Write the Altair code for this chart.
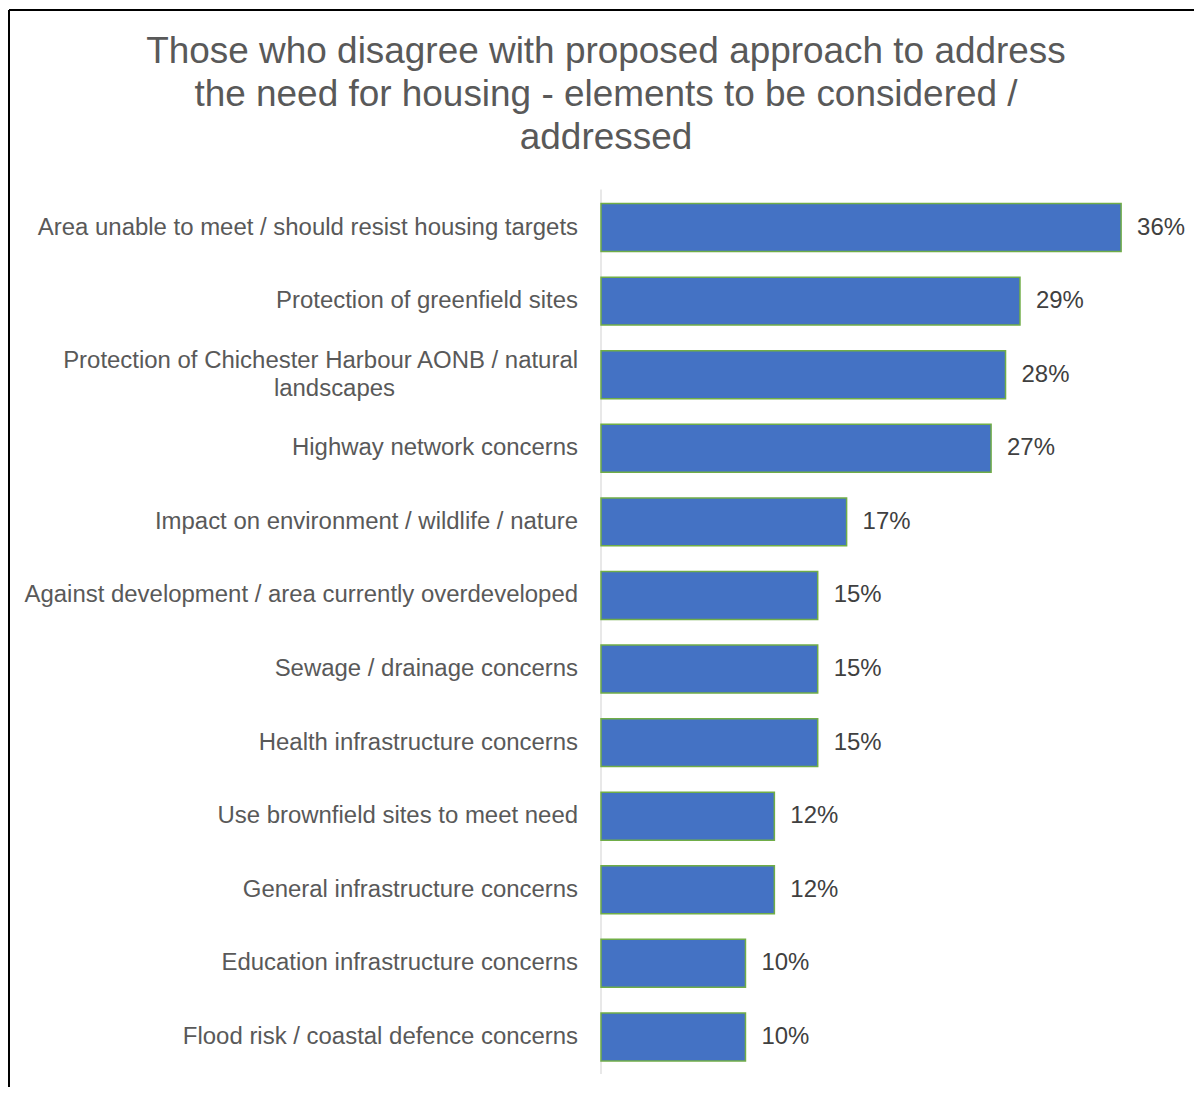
import altair as alt
import pandas as pd

title_lines = [
    "Those who disagree with proposed approach to address",
    "the need for housing - elements to be considered /",
    "addressed",
]

categories = [
    "Area unable to meet / should resist housing targets",
    "Protection of greenfield sites",
    "Protection of Chichester Harbour AONB / natural landscapes",
    "Highway network concerns",
    "Impact on environment / wildlife / nature",
    "Against development / area currently overdeveloped",
    "Sewage / drainage concerns",
    "Health infrastructure concerns",
    "Use brownfield sites to meet need",
    "General infrastructure concerns",
    "Education infrastructure concerns",
    "Flood risk / coastal defence concerns",
]
values = [36, 29, 28, 27, 17, 15, 15, 15, 12, 12, 10, 10]

label_line1 = [
    "Area unable to meet / should resist housing targets",
    "Protection of greenfield sites",
    "Protection of Chichester Harbour AONB / natural",
    "Highway network concerns",
    "Impact on environment / wildlife / nature",
    "Against development / area currently overdeveloped",
    "Sewage / drainage concerns",
    "Health infrastructure concerns",
    "Use brownfield sites to meet need",
    "General infrastructure concerns",
    "Education infrastructure concerns",
    "Flood risk / coastal defence concerns",
]
label_line2 = ["", "", "landscapes", "", "", "", "", "", "", "", "", ""]

df = pd.DataFrame({
    "cat": categories,
    "idx": list(range(len(categories))),
    "value": values,
    "zero": [0] * len(values),
    "pct": [f"{v}%" for v in values],
    "l1": label_line1,
    "l2": label_line2,
    "wrapped": [1 if s else 0 for s in label_line2],
})

title_df = pd.DataFrame({"txt": ["\n".join(title_lines)]})

FONT = "Liberation Sans"
HALF = 0.3257  # half bar thickness in category units
W, H = 1187, 1079

y_scale = alt.Scale(domain=[-2.958, 11.682], reverse=True, nice=False, zero=False)
x_scale = alt.Scale(domain=[-40.976, 41.045], nice=False, zero=False)

base = alt.Chart(df).transform_calculate(
    y0=f"datum.idx - {HALF}", y1=f"datum.idx + {HALF}"
)

bars = base.mark_bar(
    color="#4472C4", stroke="#70AD47", strokeWidth=1.5
).encode(
    x=alt.X("value:Q", scale=x_scale, axis=None),
    x2="zero:Q",
    y=alt.Y("y0:Q", scale=y_scale, axis=None),
    y2="y1:Q",
)

axis_line = base.transform_filter("datum.idx == 0").mark_rule(
    color="#D9D9D9", strokeWidth=1.2
).encode(
    x=alt.X("zero:Q", scale=x_scale, axis=None),
    y=alt.value(180),
    y2=alt.value(1066),
)

# outer chart frame (left and top edges visible in the reference)
frame_left = base.transform_filter("datum.idx == 0").mark_rule(
    color="black", strokeWidth=2
).encode(x=alt.value(0), y=alt.value(0), y2=alt.value(H))
frame_top = base.transform_filter("datum.idx == 0").mark_rule(
    color="black", strokeWidth=2
).encode(x=alt.value(0), x2=alt.value(W), y=alt.value(0))

y_enc = alt.Y("idx:Q", scale=y_scale, axis=None)

value_labels = base.mark_text(
    align="left", baseline="middle", dx=16, font=FONT, fontSize=24, color="#404040"
).encode(
    x=alt.X("value:Q", scale=x_scale, axis=None),
    y=y_enc,
    text="pct:N",
)

single_labels = base.transform_filter("datum.wrapped == 0").mark_text(
    align="right", baseline="middle", dx=-23, font=FONT, fontSize=24, color="#595959"
).encode(
    x=alt.X("zero:Q", scale=x_scale, axis=None),
    y=y_enc,
    text="l1:N",
)

wrap_line1 = base.transform_filter("datum.wrapped == 1").mark_text(
    align="right", baseline="middle", dx=-23, dy=-14, font=FONT, fontSize=24, color="#595959"
).encode(
    x=alt.X("zero:Q", scale=x_scale, axis=None),
    y=y_enc,
    text="l1:N",
)

wrap_line2 = base.transform_filter("datum.wrapped == 1").mark_text(
    align="center", baseline="middle", dx=-267, dy=14, font=FONT, fontSize=24, color="#595959"
).encode(
    x=alt.X("zero:Q", scale=x_scale, axis=None),
    y=y_enc,
    text="l2:N",
)

title = alt.Chart(title_df).mark_text(
    align="center",
    baseline="alphabetic",
    lineBreak="\n",
    lineHeight=43,
    font=FONT,
    fontSize=37,
    color="#595959",
).encode(
    x=alt.value(598),
    y=alt.value(53),
    text="txt:N",
)

chart = alt.layer(
    frame_left, frame_top, axis_line, bars, value_labels,
    single_labels, wrap_line1, wrap_line2, title
).properties(
    width=W, height=H, padding=0, background="white"
).configure_view(
    strokeWidth=0
)

chart.save("out.html", embed_options={"renderer": "svg", "actions": False})
